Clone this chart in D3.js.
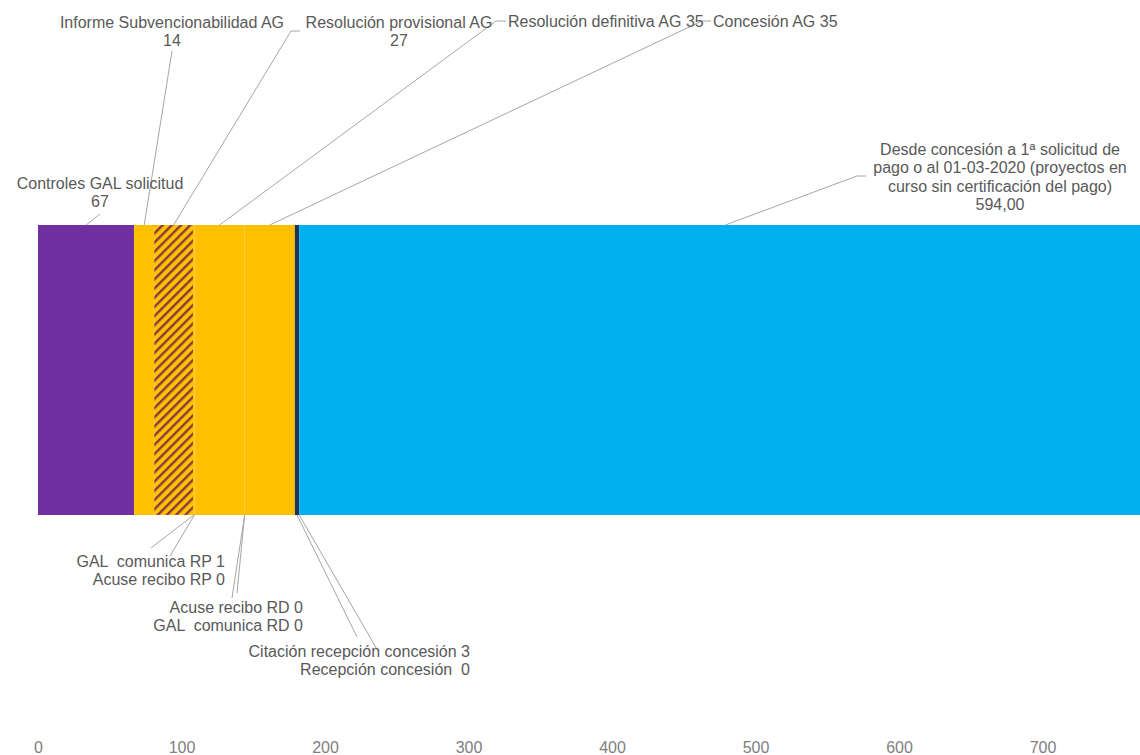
<!DOCTYPE html>
<html>
<head>
<meta charset="utf-8">
<script src="https://cdn.jsdelivr.net/npm/d3@7/dist/d3.min.js"></script>
<style>
  html, body { margin: 0; padding: 0; background: #ffffff; }
  svg { display: block; font-family: "Liberation Sans", Arial, sans-serif; }
</style>
</head>
<body>
<svg id="chart" width="1140" height="755"></svg>
<script>
// ---- data ----
const categories = [
  "Controles GAL solicitud",
  "Informe Subvencionabilidad AG",
  "Resolución provisional AG",
  "GAL  comunica RP",
  "Acuse recibo RP",
  "Resolución definitiva AG",
  "GAL  comunica RD",
  "Acuse recibo RD",
  "Concesión AG",
  "Citación recepción concesión",
  "Recepción concesión",
  "Desde concesión a 1ª solicitud de pago o al 01-03-2020 (proyectos en curso sin certificación del pago)"
];
const values = [67, 14, 27, 1, 0, 35, 0, 0, 35, 3, 0, 594];
const valueLabels = ["67", "14", "27", "1", "0", "35", "0", "0", "35", "3", "0", "594,00"];
const segmentFills = ["#7030A0", "#FFC000", "hatch", "#FFC000", "#FFC000", "#FFC000", "#FFC000", "#FFC000", "#FFC000", "#1F3354", "#1F3354", "#00B0F0"];
const tickValues = [0, 100, 200, 300, 400, 500, 600, 700];

// ---- label layout (text lines, anchor, leader end points on the label side) ----
const labelLayout = [
  { i: 0, side: "top", lines: ["Controles GAL solicitud", "67"], x: 100, y: 189, anchor: "middle", pts: [[100, 214]] },
  { i: 1, side: "top", lines: ["Informe Subvencionabilidad AG", "14"], x: 172, y: 28, anchor: "middle", pts: [[172, 51]] },
  { i: 2, side: "top", lines: ["Resolución provisional AG", "27"], x: 399, y: 28, anchor: "middle", pts: [[291, 31], [300, 31]] },
  { i: 5, side: "top", lines: ["Resolución definitiva AG 35"], x: 508, y: 27, anchor: "start", pts: [[496, 21], [506, 21]] },
  { i: 8, side: "top", lines: ["Concesión AG 35"], x: 713, y: 27, anchor: "start", pts: [[702, 21], [711, 21]] },
  { i: 11, side: "top", lines: ["Desde concesión a 1ª solicitud de", "pago o al 01-03-2020 (proyectos en", "curso sin certificación del pago)", "594,00"], x: 1000, y: 155, anchor: "middle", pts: [[857, 176], [866, 176]] },
  { i: 3, side: "bottom", lines: ["GAL  comunica RP 1"], x: 225, y: 567, anchor: "end", pts: [[151, 548]] },
  { i: 4, side: "bottom", lines: ["Acuse recibo RP 0"], x: 225, y: 585, anchor: "end", pts: [[170, 556]] },
  { i: 7, side: "bottom", lines: ["Acuse recibo RD 0"], x: 303, y: 613, anchor: "end", pts: [[237, 593]] },
  { i: 6, side: "bottom", lines: ["GAL  comunica RD 0"], x: 303, y: 631, anchor: "end", pts: [[232, 598]] },
  { i: 9, side: "bottom", lines: ["Citación recepción concesión 3"], x: 470, y: 657, anchor: "end", pts: [[357, 637]] },
  { i: 10, side: "bottom", lines: ["Recepción concesión  0"], x: 470, y: 675, anchor: "end", pts: [[378, 651]] }
];

// ---- layout ----
const W = 1140, H = 755;
const barTop = 225, barBottom = 515;
const svg = d3.select("#chart");

const x = d3.scaleLinear().domain([0, 800]).range([38, 38 + 1148]);
const y = d3.scaleBand().domain(["bar"]).range([barTop, barBottom]).padding(0);

// stacked segments
let acc = 0;
const segs = values.map((v, i) => {
  const s = { i, start: acc, end: acc + v, value: v, fill: segmentFills[i] };
  acc += v;
  return s;
});

// hatch pattern
const defs = svg.append("defs");
const pat = defs.append("pattern")
  .attr("id", "hatch")
  .attr("patternUnits", "userSpaceOnUse")
  .attr("width", 6.5).attr("height", 6.5)
  .attr("patternTransform", "rotate(45)");
pat.append("rect").attr("width", 6.5).attr("height", 6.5).attr("fill", "#FFC000");
pat.append("rect").attr("x", 0).attr("y", 0).attr("width", 2.4).attr("height", 6.5).attr("fill", "#8a3b3b");

const clip = defs.append("clipPath").attr("id", "plotclip");
clip.append("rect").attr("x", 0).attr("y", 0).attr("width", W).attr("height", H);

svg.append("rect").attr("width", W).attr("height", H).attr("fill", "#ffffff");

svg.append("g").attr("clip-path", "url(#plotclip)")
  .selectAll("rect.seg")
  .data(segs.filter(d => d.value > 0))
  .join("rect")
  .attr("class", "seg")
  .attr("x", d => x(d.start))
  .attr("y", y("bar"))
  .attr("width", d => x(d.end) - x(d.start))
  .attr("height", y.bandwidth())
  .attr("fill", d => d.fill === "hatch" ? "url(#hatch)" : d.fill);

// leader lines
const line = d3.line();
const gLeaders = svg.append("g");
labelLayout.forEach(L => {
  const s = segs[L.i];
  const cx = x((s.start + s.end) / 2);
  const cy = L.side === "top" ? barTop : barBottom;
  const pts = [[cx, cy]].concat(L.pts);
  gLeaders.append("path")
    .attr("d", line(pts))
    .attr("fill", "none")
    .attr("stroke", "#a6a6a6")
    .attr("stroke-width", 1);
});

// labels
const gLabels = svg.append("g");
labelLayout.forEach(L => {
  const t = gLabels.append("text")
    .attr("x", L.x)
    .attr("y", L.y)
    .attr("text-anchor", L.anchor)
    .attr("font-size", 16)
    .attr("fill", "#595959")
    .style("white-space", "pre");
  L.lines.forEach((ln, k) => {
    t.append("tspan")
      .attr("x", L.x)
      .attr("dy", k === 0 ? 0 : 18.3)
      .text(ln);
  });
});

// axis tick labels
const axis = d3.axisBottom(x).tickValues(tickValues).tickSize(0).tickPadding(0).tickFormat(d3.format("d"));
const gAxis = svg.append("g").attr("transform", "translate(0,741)").call(axis);
gAxis.select(".domain").remove();
gAxis.selectAll("text")
  .attr("dy", null)
  .attr("y", 12)
  .attr("font-size", 16)
  .attr("font-family", "Liberation Sans, Arial, sans-serif")
  .attr("fill", "#7f7f7f");
</script>
</body>
</html>
